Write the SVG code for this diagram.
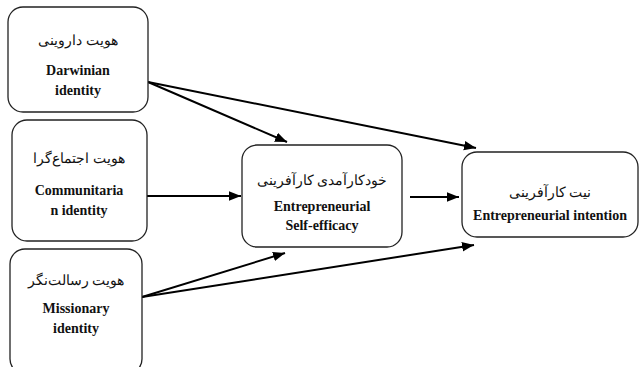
<svg xmlns="http://www.w3.org/2000/svg" width="639" height="367" viewBox="0 0 639 367">
<style>
.box{fill:#fff;stroke:#222;stroke-width:1.3}
.fa{font-family:"Liberation Serif","DejaVu Serif","Noto Sans",serif;font-size:14px;fill:#111;text-anchor:middle}
.en{font-family:"Liberation Serif",serif;font-weight:bold;font-size:14px;fill:#111;text-anchor:middle}
.ln{stroke:#000;stroke-width:2;fill:none;marker-end:url(#ah)}
</style>
<defs>
<marker id="ah" viewBox="0 0 10 10" refX="10" refY="5" markerWidth="6" markerHeight="6" markerUnits="strokeWidth" orient="auto">
<path d="M0,1 L10,5 L0,9 z" fill="#000"/>
</marker>
</defs>
<rect width="639" height="367" fill="#fff"/>
<g id="connectors">
<line class="ln" x1="148" y1="82" x2="287" y2="142"/>
<line class="ln" x1="148" y1="82" x2="476" y2="148"/>
<line class="ln" x1="147" y1="196" x2="241" y2="196"/>
<line class="ln" x1="410" y1="197" x2="459" y2="197"/>
<line class="ln" x1="142" y1="297" x2="285" y2="253"/>
<line class="ln" x1="142" y1="297" x2="474" y2="245"/>
</g>
<g id="darwinian">
<rect class="box" x="8" y="7" width="140" height="105" rx="15"/>
<text class="fa" x="78" y="45" direction="rtl">هویت داروینی</text>
<text class="en" x="78" y="75">Darwinian</text>
<text class="en" x="78" y="95">identity</text>
</g>
<g id="communitarian">
<rect class="box" x="12" y="120" width="135" height="121" rx="15"/>
<text class="fa" x="79" y="163" direction="rtl">هویت اجتماع‌گرا</text>
<text class="en" x="79" y="195">Communitaria</text>
<text class="en" x="79" y="215">n identity</text>
</g>
<g id="missionary">
<rect class="box" x="10" y="249" width="132" height="125" rx="15"/>
<text class="fa" x="76" y="285" direction="rtl">هویت رسالت‌نگر</text>
<text class="en" x="76" y="313">Missionary</text>
<text class="en" x="76" y="333">identity</text>
</g>
<g id="selfefficacy">
<rect class="box" x="242" y="145" width="160" height="102" rx="15"/>
<text class="fa" x="322" y="185" direction="rtl">خودکارآمدی کارآفرینی</text>
<text class="en" x="322" y="211">Entrepreneurial</text>
<text class="en" x="322" y="230">Self-efficacy</text>
</g>
<g id="intention">
<rect class="box" x="462" y="152" width="176" height="85" rx="15"/>
<text class="fa" x="550" y="197" direction="rtl">نیت کارآفرینی</text>
<text class="en" x="550" y="220">Entrepreneurial intention</text>
</g>
</svg>
